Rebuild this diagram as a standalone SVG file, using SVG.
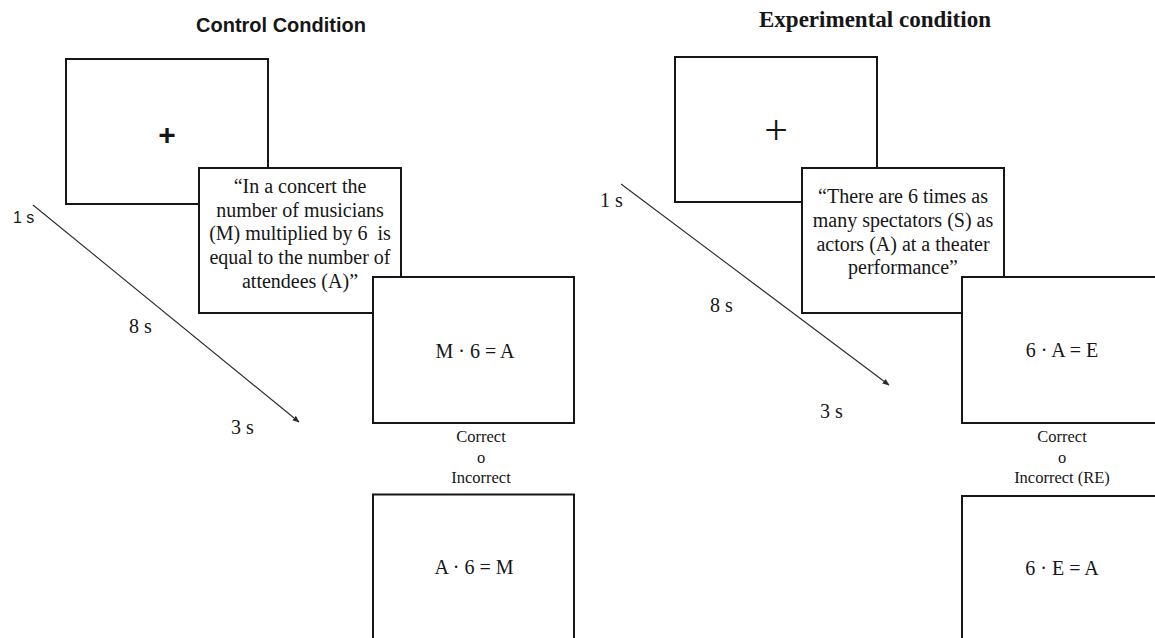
<svg xmlns="http://www.w3.org/2000/svg" width="1155" height="638" viewBox="0 0 1155 638">
  <style>
    .screen { fill: #ffffff; stroke: #161616; stroke-width: 2; }
    .serif { font-family: "Liberation Serif", "Times New Roman", serif; fill: #161616; }
    .sans { font-family: "Liberation Sans", Arial, sans-serif; fill: #161616; }
    .body { font-size: 20px; text-anchor: middle; }
    .resp { font-size: 16.5px; text-anchor: middle; }
    .time { font-size: 20px; }
    .flow { stroke: #2a2a2a; stroke-width: 1.1; fill: none; marker-end: url(#head); }
  </style>
  <defs>
    <marker id="head" viewBox="0 0 10 10" refX="9" refY="5" markerWidth="7" markerHeight="7" markerUnits="userSpaceOnUse" orient="auto">
      <path d="M0,1 L10,5 L0,9 z" fill="#2a2a2a"/>
    </marker>
  </defs>
  <rect width="1155" height="638" fill="#ffffff"/>

  <!-- panel titles -->
  <g id="titles">
    <text class="sans" x="281" y="32" font-size="20" font-weight="bold" text-anchor="middle">Control Condition</text>
    <text class="serif" x="875" y="27" font-size="23" font-weight="bold" text-anchor="middle">Experimental condition</text>
  </g>

  <!-- time-flow arrows -->
  <g id="connectors">
    <line class="flow" x1="33" y1="205" x2="299" y2="422"/>
    <line class="flow" x1="621" y1="184" x2="889" y2="385"/>
  </g>

  <!-- timing labels -->
  <g id="timings">
    <text class="sans" x="13" y="223" font-size="16">1 s</text>
    <text class="serif time" x="129" y="333">8 s</text>
    <text class="serif time" x="231" y="434">3 s</text>
    <text class="serif time" x="600" y="207">1 s</text>
    <text class="serif time" x="710" y="312">8 s</text>
    <text class="serif time" x="820" y="418">3 s</text>
  </g>

  <!-- control condition screens -->
  <g id="ctrl-fixation">
    <rect class="screen" x="66" y="59" width="202" height="145"/>
    <text class="sans" x="167" y="145" font-size="30" font-weight="bold" text-anchor="middle">+</text>
  </g>
  <g id="ctrl-statement">
    <rect class="screen" x="199" y="168" width="202" height="145"/>
    <text class="serif body" x="300" y="193">“In a concert the</text>
    <text class="serif body" x="300" y="216.5">number of musicians</text>
    <text class="serif body" x="300" y="240" xml:space="preserve">(M) multiplied by 6  is</text>
    <text class="serif body" x="300" y="264">equal to the number of</text>
    <text class="serif body" x="300" y="287.5">attendees (A)”</text>
  </g>
  <g id="ctrl-equation">
    <rect class="screen" x="373" y="277" width="201" height="146"/>
    <text class="serif body" x="475" y="358">M · 6 = A</text>
  </g>
  <g id="ctrl-response">
    <text class="serif resp" x="481" y="442">Correct</text>
    <text class="serif resp" x="481" y="462.5">o</text>
    <text class="serif resp" x="481" y="482.5">Incorrect</text>
  </g>
  <g id="ctrl-feedback">
    <rect class="screen" x="373" y="494.5" width="201" height="160"/>
    <text class="serif body" x="474" y="574">A · 6 = M</text>
  </g>

  <!-- experimental condition screens -->
  <g id="exp-fixation">
    <rect class="screen" x="675" y="57" width="202" height="145"/>
    <text class="serif" x="776" y="144" font-size="42" text-anchor="middle">+</text>
  </g>
  <g id="exp-statement">
    <rect class="screen" x="802" y="168" width="202" height="145"/>
    <text class="serif body" x="903" y="203">“There are 6 times as</text>
    <text class="serif body" x="903" y="227">many spectators (S) as</text>
    <text class="serif body" x="903" y="251">actors (A) at a theater</text>
    <text class="serif body" x="903" y="274">performance”</text>
  </g>
  <g id="exp-equation">
    <rect class="screen" x="962" y="277" width="220" height="146"/>
    <text class="serif body" x="1062" y="357">6 · A = E</text>
  </g>
  <g id="exp-response">
    <text class="serif resp" x="1062" y="442">Correct</text>
    <text class="serif resp" x="1062" y="462.5">o</text>
    <text class="serif resp" x="1062" y="482.5">Incorrect (RE)</text>
  </g>
  <g id="exp-feedback">
    <rect class="screen" x="962" y="496" width="220" height="160"/>
    <text class="serif body" x="1062" y="575">6 · E = A</text>
  </g>
</svg>
